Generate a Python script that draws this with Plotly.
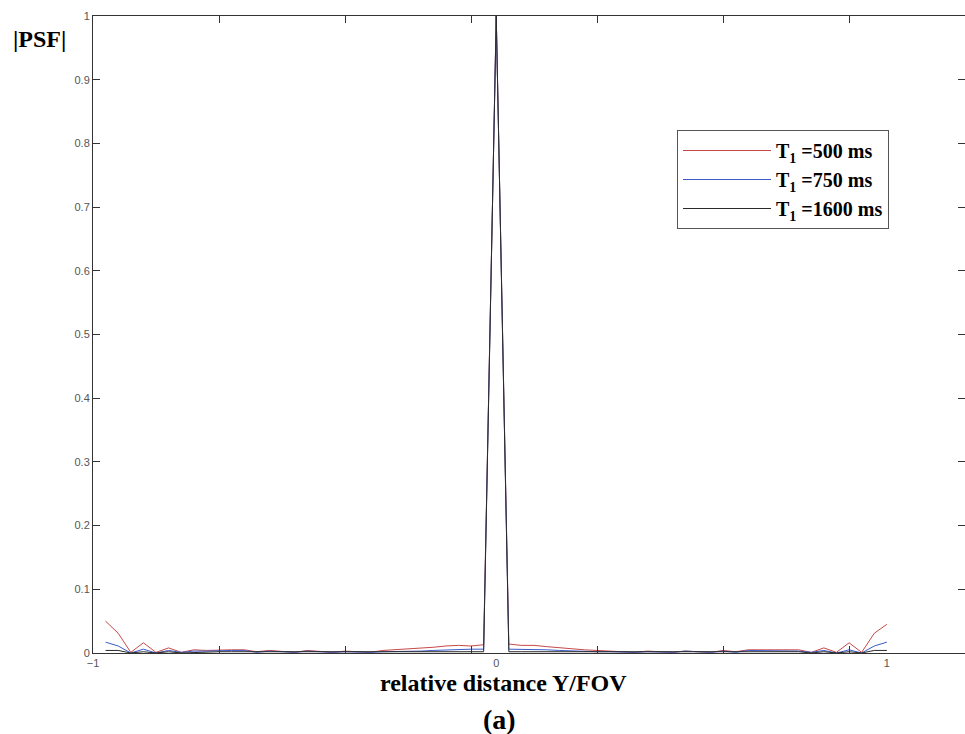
import plotly.graph_objects as go

# sample index k = -31..31 ; relative distance = k/31
sample_index = list(range(-31, 32))

psf_500 = [0.050, 0.031, 0.001, 0.016, 0.001, 0.008, 0.001, 0.005, 0.004, 0.005,
           0.005, 0.005, 0.002, 0.004, 0.003, 0.001, 0.004, 0.003, 0.001, 0.003,
           0.002, 0.001, 0.004, 0.005, 0.006, 0.008, 0.009, 0.011, 0.012, 0.011,
           0.013,
           1.000,
           0.014, 0.012, 0.012, 0.010, 0.008, 0.007, 0.005, 0.004, 0.003, 0.002,
           0.001, 0.003, 0.002, 0.001, 0.003, 0.002, 0.001, 0.004, 0.002, 0.005,
           0.005, 0.005, 0.004, 0.005, 0.001, 0.008, 0.001, 0.016, 0.001, 0.031,
           0.045]

psf_750 = [0.017, 0.011, 0.000, 0.006, 0.000, 0.004, 0.001, 0.003, 0.003, 0.004,
           0.004, 0.004, 0.001, 0.003, 0.002, 0.001, 0.003, 0.002, 0.001, 0.002,
           0.001, 0.001, 0.002, 0.002, 0.003, 0.003, 0.004, 0.005, 0.006, 0.006,
           0.006,
           1.000,
           0.006, 0.006, 0.006, 0.005, 0.004, 0.003, 0.003, 0.002, 0.002, 0.001,
           0.001, 0.002, 0.001, 0.001, 0.003, 0.002, 0.001, 0.003, 0.001, 0.004,
           0.004, 0.004, 0.003, 0.003, 0.001, 0.004, 0.000, 0.005, 0.000, 0.011,
           0.017]

psf_1600 = [0.004, 0.004, 0.000, 0.002, 0.000, 0.002, 0.000, 0.001, 0.001, 0.002,
            0.002, 0.002, 0.001, 0.001, 0.001, 0.001, 0.001, 0.001, 0.001, 0.001,
            0.001, 0.001, 0.001, 0.001, 0.002, 0.002, 0.002, 0.002, 0.002, 0.002,
            0.002,
            1.000,
            0.002, 0.002, 0.002, 0.002, 0.002, 0.002, 0.001, 0.001, 0.001, 0.001,
            0.001, 0.001, 0.001, 0.001, 0.001, 0.001, 0.001, 0.002, 0.001, 0.002,
            0.002, 0.002, 0.001, 0.002, 0.000, 0.002, 0.000, 0.002, 0.000, 0.004,
            0.004]

series_names = ["<b>T<sub>1</sub> =500 ms</b>", "<b>T<sub>1</sub> =750 ms</b>",
                "<b>T<sub>1</sub> =1600 ms</b>"]
series_colors = ["#c84848", "#3a5cc8", "#2a2a2a"]

x_tick_vals = [-32 / 31, 0, 1]
x_tick_text = ["\u22121", "0", "1"]
minor_tick_index = [-22, -12, -2, 8, 18, 28]
y_tick_vals = [0, 0.1, 0.2, 0.3, 0.4, 0.5, 0.6, 0.7, 0.8, 0.9, 1]
y_tick_text = ["0", "0.1", "0.2", "0.3", "0.4", "0.5", "0.6", "0.7", "0.8", "0.9", "1"]

x_vals = [k / 31 for k in sample_index]
x_range = [-32 / 31, 37.2 / 31]

fig = go.Figure()
for ys, name, col in zip([psf_500, psf_750, psf_1600], series_names, series_colors):
    fig.add_trace(go.Scatter(x=x_vals, y=ys, mode="lines", name=name,
                             line=dict(color=col, width=1)))
# empty trace to activate the tick-only overlay axis
fig.add_trace(go.Scatter(x=[], y=[], xaxis="x2", showlegend=False, hoverinfo="skip"))

tick_font = dict(family="Liberation Sans, Arial, sans-serif", size=11, color="#555555")
serif_bold = "Liberation Serif, Times New Roman, serif"

fig.update_layout(
    width=965, height=734,
    margin=dict(l=93, r=0, t=16, b=81),
    paper_bgcolor="white", plot_bgcolor="white",
    xaxis=dict(range=x_range, tickvals=x_tick_vals, ticktext=x_tick_text,
               showgrid=False, zeroline=False, showline=True, linecolor="#333333",
               linewidth=1, ticks="", tickfont=tick_font),
    xaxis2=dict(range=x_range, overlaying="x", side="top",
                tickvals=[k / 31 for k in minor_tick_index],
                showticklabels=False, ticks="inside", ticklen=7,
                tickcolor="#333333", showline=True, linecolor="#333333",
                linewidth=1, mirror="ticks", showgrid=False, zeroline=False),
    yaxis=dict(range=[0, 1], tickvals=y_tick_vals, ticktext=y_tick_text,
               ticks="inside", ticklen=7, tickcolor="#333333",
               showline=True, linecolor="#333333", linewidth=1, mirror="ticks",
               showgrid=False, zeroline=False, tickfont=tick_font),
    legend=dict(x=(677 - 93) / 872, y=(653 - 130) / 637, xanchor="left", yanchor="top",
                bgcolor="white", bordercolor="#555555", borderwidth=1,
                font=dict(family=serif_bold, size=20, color="black"),
                itemwidth=88, tracegroupgap=0),
    annotations=[
        dict(text="<b>|PSF|</b>", xref="paper", yref="paper",
             x=(11 - 93) / 872, y=(653 - 39) / 637, xanchor="left", yanchor="middle",
             showarrow=False, font=dict(family=serif_bold, size=24, color="black")),
        dict(text="<b>relative distance Y/FOV</b>", xref="paper", yref="paper",
             x=(503 - 93) / 872, y=(653 - 683) / 637, xanchor="center", yanchor="middle",
             showarrow=False, font=dict(family=serif_bold, size=24, color="black")),
        dict(text="<b>(a)</b>", xref="paper", yref="paper",
             x=(499 - 93) / 872, y=(653 - 719) / 637, xanchor="center", yanchor="middle",
             showarrow=False, font=dict(family=serif_bold, size=28, color="black")),
    ],
)

fig.write_html("out.html")
